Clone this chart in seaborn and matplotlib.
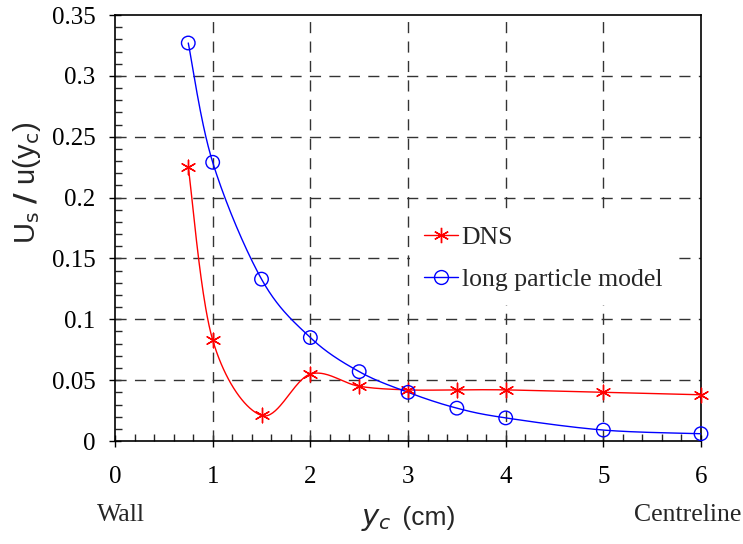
import numpy as np
import pandas as pd
import matplotlib
matplotlib.use("Agg")
import matplotlib.pyplot as plt
import seaborn as sns
from matplotlib.lines import Line2D
from matplotlib.ticker import MultipleLocator

# ---- data ----
yc = [0.75, 1.0, 1.5, 2.0, 2.5, 3.0, 3.5, 4.0, 5.0, 6.0]
dns = [0.225, 0.083, 0.021, 0.055, 0.045, 0.042, 0.042, 0.042, 0.040, 0.038]
model = [0.327, 0.229, 0.133, 0.085, 0.057, 0.040, 0.027, 0.019, 0.009, 0.006]
xticks = [0, 1, 2, 3, 4, 5, 6]
yticks = [0, 0.05, 0.1, 0.15, 0.2, 0.25, 0.3, 0.35]
ytick_labels = ["0", "0.05", "0.1", "0.15", "0.2", "0.25", "0.3", "0.35"]

sns.set_theme(style="ticks")
plt.rcParams["font.family"] = ["Liberation Serif", "DejaVu Sans"]

fig = plt.figure(figsize=(7.43, 5.44), dpi=100)
ax = fig.add_axes([0.1548, 0.1893, 0.7887, 0.7831])
ax.set_xlim(0, 6)
ax.set_ylim(0, 0.35)

# smoothed line rendering (Bezier through the data points, like a spreadsheet smoothed line)
def smooth(xs, ys, sx=6.0, sy=0.35 * 0.7831 * 5.44 / (0.7887 * 7.43), n=40):
    P = np.column_stack([np.asarray(xs) / sx, np.asarray(ys) / sy])
    Pe = np.vstack([P[0], P, P[-1]])
    out = []
    t = np.linspace(0, 1, n)[:, None]
    for i in range(len(P) - 1):
        p0, p1, p2, p3 = Pe[i], Pe[i + 1], Pe[i + 2], Pe[i + 3]
        c1 = p1 + (p2 - p0) / 6
        c2 = p2 - (p3 - p1) / 6
        seg = ((1 - t) ** 3) * p1 + 3 * ((1 - t) ** 2) * t * c1 + 3 * (1 - t) * t ** 2 * c2 + t ** 3 * p2
        out.append(seg if i == 0 else seg[1:])
    S = np.vstack(out)
    return S[:, 0] * sx, S[:, 1] * sy

for ys, col in [(dns, "red"), (model, "blue")]:
    sx_, sy_ = smooth(yc, ys)
    ax.plot(sx_, sy_, color=col, lw=1.0, zorder=3)

df = pd.DataFrame({"yc": yc, "DNS": dns, "model": model})
sns.scatterplot(data=df, x="yc", y="DNS", ax=ax, marker=(6, 2, 0), s=110,
                color="red", linewidth=1.0, edgecolor="red", zorder=4, clip_on=False)
sns.scatterplot(data=df, x="yc", y="model", ax=ax, marker="o", s=95,
                facecolor="none", edgecolor="blue", linewidth=1.0, zorder=4, clip_on=False)

# grid
for gx in xticks[1:-1]:
    ax.axvline(gx, color="#333333", lw=1.0, ls=(0, (8, 6)), zorder=1)
for gy in yticks[1:-1]:
    ax.axhline(gy, color="#333333", lw=1.0, ls=(0, (8, 6)), zorder=1)

ax.set_xticks(xticks)
ax.set_yticks(yticks)
ax.set_yticklabels(ytick_labels)
ax.xaxis.set_minor_locator(MultipleLocator(0.2))
ax.yaxis.set_minor_locator(MultipleLocator(0.01))
ax.tick_params(axis="both", which="major", direction="inout", length=8, width=1,
               labelsize=18, colors="black")
ax.tick_params(axis="y", which="major", pad=10)
ax.tick_params(axis="x", which="major", pad=14)
ax.tick_params(axis="both", which="minor", direction="in", length=5, width=1)
for sp in ax.spines.values():
    sp.set_visible(True)
    sp.set_color("black")
    sp.set_linewidth(1.2)

ax.set_xlabel("")
ax.set_ylabel("")
fig.text(0.527, 0.035, r"$y_c$", fontsize=21, family="Liberation Sans", ha="right", va="baseline",
         math_fontfamily="dejavusans", style="italic")
fig.text(0.532, 0.035, " (cm)", fontsize=19, family="Liberation Sans", ha="left", va="baseline")
fig.text(0.130, 0.043, "Wall", fontsize=18.5, ha="left", va="baseline")
fig.text(0.998, 0.043, "Centreline", fontsize=18.5, ha="right", va="baseline")
fig.text(0.036, 0.664, r"U$_{\rm s}$ $\mathbf{/}$ u(y$_{\rm c}$)", fontsize=21,
         family="Liberation Sans", rotation=90, ha="center", va="center",
         math_fontfamily="dejavusans")

handles = [
    Line2D([], [], color="red", lw=1.0, marker=(6, 2, 0), markersize=11, markeredgewidth=1.0),
    Line2D([], [], color="blue", lw=1.0, marker="o", markersize=10, markerfacecolor="none",
           markeredgewidth=1.0),
]
leg = ax.legend(handles, ["DNS", "long particle model"], loc="upper left",
                bbox_to_anchor=(0.504, 0.539), frameon=True, fontsize=18.5, handlelength=1.3,
                handletextpad=0.15, labelspacing=0.75, fancybox=False, framealpha=1.0,
                facecolor="white", edgecolor="none", borderpad=0.55, borderaxespad=0.0)
leg.set_zorder(5)

fig.savefig("out.png", dpi=100)
